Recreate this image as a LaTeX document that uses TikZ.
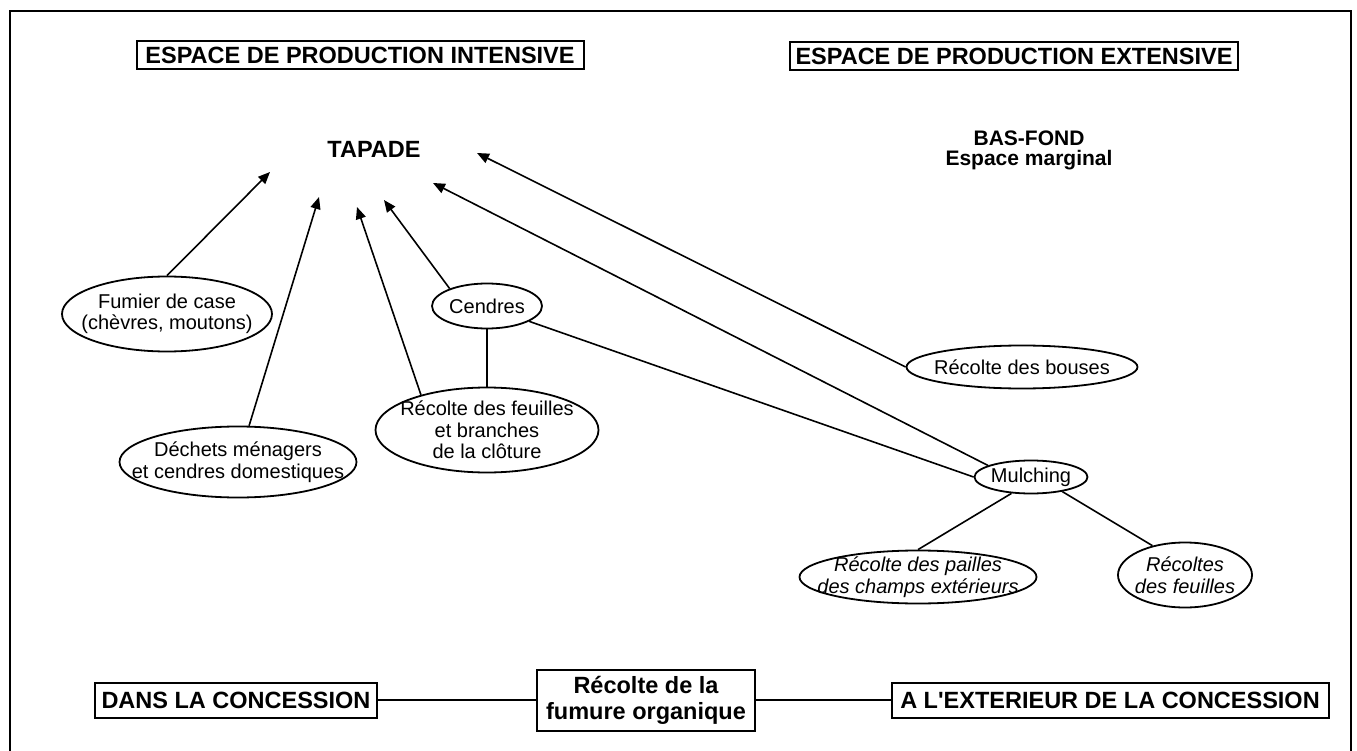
\documentclass[tikz,border=0pt]{standalone}
\usepackage{fontspec}
\setmainfont{Liberation Sans}
\usetikzlibrary{shapes.geometric,arrows.meta}

\begin{document}
\begin{tikzpicture}[x=1pt,y=-1pt,
    cadre/.style={draw,line width=2pt,inner sep=0pt,align=center,
      font=\bfseries\fontsize{23.5}{26}\selectfont},
    bulle/.style={ellipse,draw,line width=1.8pt,inner sep=0pt},
    texte/.style={align=center,inner sep=0pt,font=\fontsize{20}{21.5}\selectfont},
    penche/.style={texte,font=\itshape\fontsize{20}{21.5}\selectfont},
    fleche/.style={line width=1.6pt,-{Triangle[length=12pt,width=10pt]}},
    lien/.style={line width=1.6pt}]
    \useasboundingbox (0,0) rectangle (1357,751);
    \draw[line width=2pt] (10,760) -- (10,11) -- (1351,11) -- (1351,760);

    \node[cadre,minimum width=447pt,minimum height=28pt] (intensif)  at (360,55)  {ESPACE DE PRODUCTION INTENSIVE};
    \node[cadre,minimum width=448pt,minimum height=28pt] (extensif)  at (1014,56) {ESPACE DE PRODUCTION EXTENSIVE};
    \node[font=\bfseries\fontsize{23.5}{26}\selectfont] (tapade)    at (374,149)  {TAPADE};
    \node[align=center,font=\bfseries\fontsize{21}{20}\selectfont] (basfond) at (1029,150) {BAS-FOND\\Espace marginal};

    \node[bulle,minimum width=210pt,minimum height=75pt,
      label={[texte]center:Fumier de case\\(chèvres, moutons)}] (fumier) at (167,314) {};
    \node[bulle,minimum width=237pt,minimum height=71pt,
      label={[texte]center:Déchets ménagers\\et cendres domestiques}] (dechets) at (238,462) {};
    \node[bulle,minimum width=110pt,minimum height=45pt,
      label={[texte]center:Cendres}] (cendres) at (487,306) {};
    \node[bulle,minimum width=223pt,minimum height=85pt,
      label={[texte]center:Récolte des feuilles\\et branches\\de la clôture}] (cloture) at (487,430) {};
    \node[bulle,minimum width=231pt,minimum height=43pt,
      label={[texte]center:Récolte des bouses}] (bouses) at (1022,367) {};
    \node[bulle,minimum width=113pt,minimum height=33pt,
      label={[texte]center:Mulching}] (mulching) at (1031,477) {};
    \node[bulle,minimum width=237pt,minimum height=53pt,
      label={[penche]center:Récolte des pailles\\des champs extérieurs}] (pailles) at (918,577) {};
    \node[bulle,minimum width=134pt,minimum height=65pt,
      label={[penche]center:Récoltes\\des feuilles}] (feuilles) at (1185,575) {};

    \node[cadre,minimum width=282pt,minimum height=35pt] (dans)      at (236,700)  {DANS LA CONCESSION};
    \node[cadre,minimum width=218pt,minimum height=61pt] (fumure)    at (646,700)  {Récolte de la\\fumure organique};
    \node[cadre,minimum width=437pt,minimum height=35pt] (exterieur) at (1110,700) {A L\textquotesingle EXTERIEUR DE LA CONCESSION};

    \coordinate (pfumier)   at (270,172);
    \coordinate (pdechets)  at (319,197);
    \coordinate (pcloture)  at (357,207);
    \coordinate (pcendres)  at (384,200);
    \coordinate (pmulching) at (433,183);
    \coordinate (pbouses)   at (477,153);

    \draw[fleche] (fumier.north) -- (pfumier);
    \draw[fleche] (dechets) -- (pdechets);
    \draw[fleche] (cloture.152) -- (pcloture);
    \draw[fleche] (cendres.155) -- (pcendres);
    \draw[fleche] (mulching.165) -- (pmulching);
    \draw[fleche] (bouses.west) -- (pbouses);
    \draw[lien] (cendres.south) -- (cloture.north);
    \draw[lien] (cendres.-20) -- (mulching.west);
    \draw[lien] (mulching.-140) -- (pailles.north);
    \draw[lien] (mulching.-25) -- (feuilles.138);
    \draw[lien] (dans) -- (fumure);
    \draw[lien] (fumure) -- (exterieur);
\end{tikzpicture}
\end{document}
